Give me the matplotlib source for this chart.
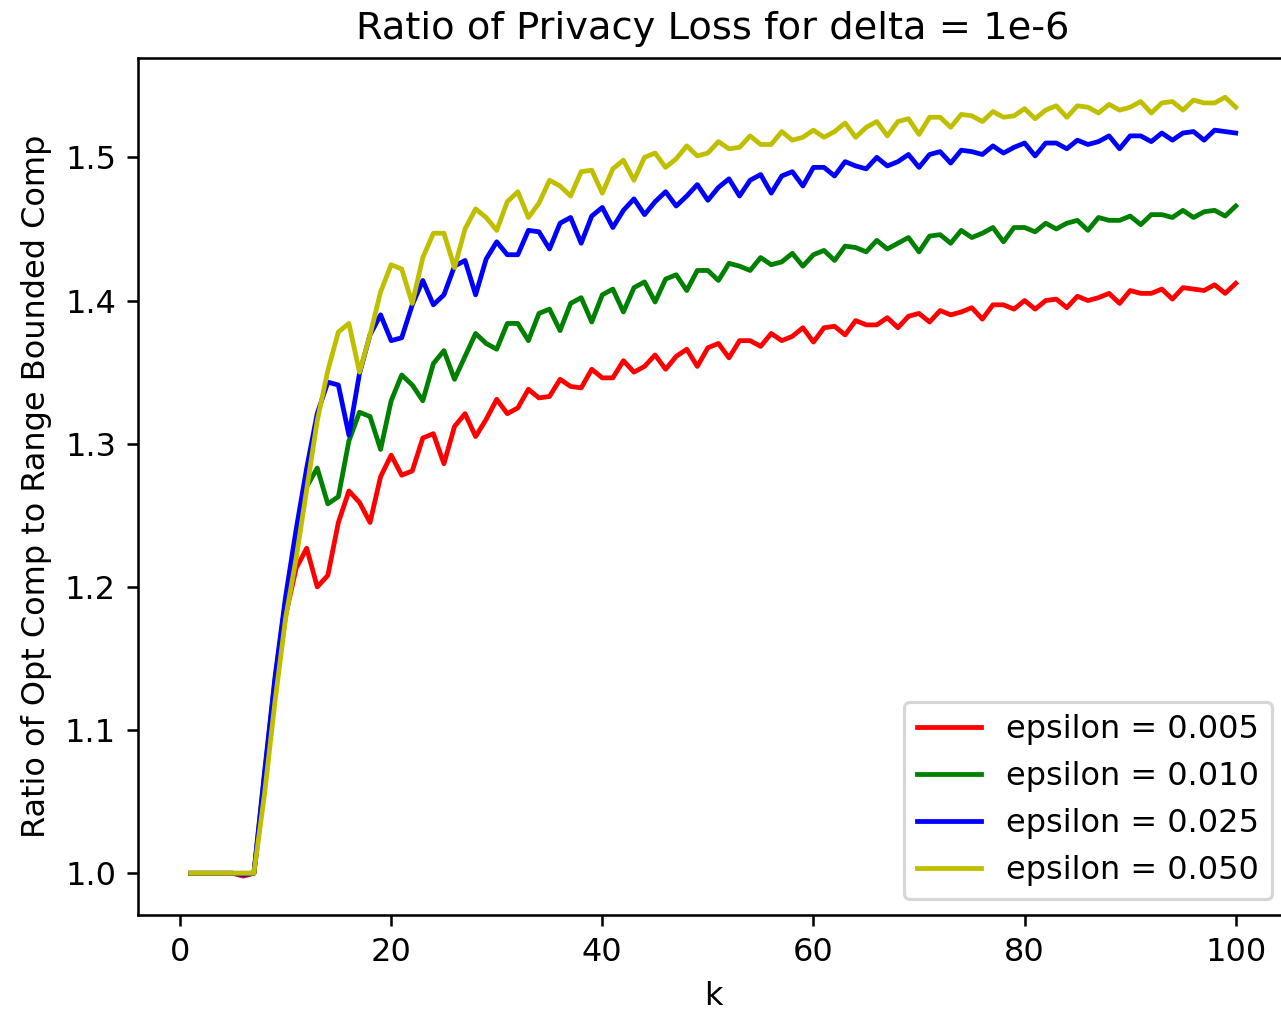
import matplotlib
matplotlib.use("Agg")
import matplotlib.pyplot as plt
import numpy as np

k = list(range(1, 101))

eps_005 = [1.0, 1.0, 1.0, 1.0, 1.0, 0.998, 1.0, 1.062, 1.125, 1.18,
           1.213, 1.227, 1.200, 1.208, 1.245, 1.267, 1.259, 1.245, 1.277, 1.292,
           1.278, 1.281, 1.304, 1.307, 1.286, 1.312, 1.321, 1.305, 1.317, 1.331,
           1.321, 1.325, 1.338, 1.332, 1.333, 1.345, 1.340, 1.339, 1.352, 1.346,
           1.346, 1.358, 1.350, 1.354, 1.362, 1.352, 1.361, 1.366, 1.354, 1.367,
           1.370, 1.360, 1.372, 1.372, 1.368, 1.377, 1.372, 1.375, 1.381, 1.371,
           1.381, 1.382, 1.376, 1.386, 1.383, 1.383, 1.388, 1.381, 1.389, 1.391,
           1.385, 1.393, 1.390, 1.392, 1.395, 1.387, 1.397, 1.397, 1.394, 1.400,
           1.394, 1.400, 1.401, 1.395, 1.403, 1.400, 1.402, 1.405, 1.398, 1.407,
           1.405, 1.405, 1.408, 1.401, 1.409, 1.408, 1.407, 1.411, 1.405, 1.412]

eps_010 = [1.0, 1.0, 1.0, 1.0, 1.0, 1.0, 1.0, 1.068, 1.135, 1.19,
           1.235, 1.270, 1.283, 1.258, 1.263, 1.302, 1.322, 1.319, 1.296, 1.330,
           1.348, 1.341, 1.330, 1.356, 1.365, 1.345, 1.361, 1.377, 1.370, 1.366,
           1.384, 1.384, 1.372, 1.391, 1.394, 1.379, 1.398, 1.402, 1.385, 1.404,
           1.408, 1.392, 1.409, 1.413, 1.399, 1.415, 1.418, 1.407, 1.421, 1.421,
           1.414, 1.426, 1.424, 1.421, 1.430, 1.425, 1.427, 1.433, 1.424, 1.432,
           1.435, 1.428, 1.438, 1.437, 1.434, 1.442, 1.436, 1.440, 1.444, 1.434,
           1.445, 1.446, 1.440, 1.449, 1.444, 1.447, 1.451, 1.441, 1.451, 1.451,
           1.448, 1.454, 1.450, 1.454, 1.456, 1.449, 1.458, 1.456, 1.456, 1.459,
           1.453, 1.460, 1.460, 1.458, 1.463, 1.458, 1.462, 1.463, 1.459, 1.466]

eps_025 = [1.0, 1.0, 1.0, 1.0, 1.0, 0.999, 1.0, 1.070, 1.137, 1.193,
           1.240, 1.283, 1.321, 1.343, 1.341, 1.306, 1.349, 1.376, 1.390, 1.372,
           1.374, 1.397, 1.414, 1.397, 1.404, 1.424, 1.428, 1.404, 1.429, 1.441,
           1.432, 1.432, 1.449, 1.448, 1.436, 1.454, 1.458, 1.440, 1.459, 1.465,
           1.451, 1.463, 1.471, 1.460, 1.469, 1.476, 1.466, 1.473, 1.481, 1.470,
           1.479, 1.485, 1.473, 1.484, 1.488, 1.475, 1.487, 1.490, 1.480, 1.493,
           1.493, 1.487, 1.497, 1.494, 1.492, 1.500, 1.494, 1.497, 1.502, 1.493,
           1.502, 1.504, 1.496, 1.505, 1.504, 1.502, 1.508, 1.503, 1.507, 1.510,
           1.501, 1.510, 1.510, 1.506, 1.512, 1.509, 1.511, 1.515, 1.506, 1.515,
           1.515, 1.511, 1.517, 1.512, 1.517, 1.518, 1.512, 1.519, 1.518, 1.517]

eps_050 = [1.0, 1.0, 1.0, 1.0, 1.0, 1.0, 1.0, 1.055, 1.120, 1.178,
           1.220, 1.268, 1.316, 1.351, 1.378, 1.384, 1.350, 1.376, 1.406, 1.425,
           1.422, 1.398, 1.430, 1.447, 1.447, 1.423, 1.450, 1.464, 1.458, 1.449,
           1.469, 1.476, 1.458, 1.468, 1.484, 1.480, 1.473, 1.490, 1.491, 1.475,
           1.492, 1.498, 1.484, 1.500, 1.503, 1.493, 1.499, 1.508, 1.501, 1.503,
           1.511, 1.506, 1.507, 1.515, 1.509, 1.509, 1.518, 1.512, 1.514, 1.519,
           1.514, 1.518, 1.524, 1.514, 1.521, 1.525, 1.515, 1.525, 1.527, 1.516,
           1.528, 1.528, 1.521, 1.530, 1.529, 1.525, 1.532, 1.528, 1.529, 1.534,
           1.527, 1.533, 1.536, 1.528, 1.536, 1.535, 1.531, 1.537, 1.533, 1.535,
           1.539, 1.531, 1.538, 1.539, 1.533, 1.540, 1.538, 1.538, 1.542, 1.535]

labels = ["epsilon = 0.005", "epsilon = 0.010", "epsilon = 0.025", "epsilon = 0.050"]
colors = ["r", "g", "b", "y"]
series = [eps_005, eps_010, eps_025, eps_050]

DPI = 230
fig = plt.figure(figsize=(1281 / DPI, 1010 / DPI), dpi=DPI)
ax = fig.add_axes([138.3 / 1281, 0.094, (1288 - 138.3) / 1281, 0.8483])
for s, c, lab in zip(series, colors, labels):
    ax.plot(k, s, color=c, label=lab, linewidth=1.5)

ax.set_title("Ratio of Privacy Loss for delta = 1e-6")
ax.set_xlabel("k")
ax.set_ylabel("Ratio of Opt Comp to Range Bounded Comp")
ax.legend(loc="lower right")
fig.savefig("out.png", dpi=DPI)
